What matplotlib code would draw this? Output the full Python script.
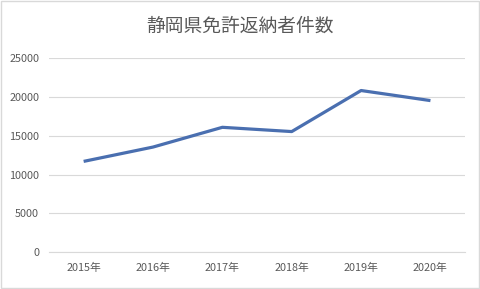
import matplotlib
matplotlib.use("Agg")
import matplotlib.pyplot as plt
from matplotlib.patches import Rectangle

plt.rcParams['font.family'] = ['Noto Sans CJK JP', 'DejaVu Sans']

years = ["2015年", "2016年", "2017年", "2018年", "2019年", "2020年"]
counts = [11700, 13550, 16100, 15550, 20850, 19550]
yticks = [0, 5000, 10000, 15000, 20000, 25000]

fig = plt.figure(figsize=(4.8, 2.89), dpi=100)
ax = fig.add_axes([0.102, 0.128, 0.867, 0.670])

ax.plot(range(len(years)), counts, color="#4A6FB0", linewidth=2.3, solid_capstyle="butt")

ax.set_xlim(-0.5, len(years) - 0.5)
ax.set_ylim(0, 25000)
ax.set_yticks(yticks)
ax.set_xticks(range(len(years)))
ax.set_xticklabels(years)
ax.grid(axis="y", color="#D9D9D9", linewidth=0.8)
ax.set_axisbelow(True)
for s in ["top", "right", "left"]:
    ax.spines[s].set_visible(False)
ax.spines["bottom"].set_color("#D9D9D9")
ax.spines["bottom"].set_linewidth(0.8)
ax.tick_params(length=0, labelsize=7.8, labelcolor="#595959")
ax.tick_params(axis="y", pad=7)
ax.tick_params(axis="x", pad=8)

fig.text(0.5, 0.91, "静岡県免許返納者件数", ha="center", va="center",
         fontsize=13.5, color="#595959")

fig.patches.append(Rectangle((0.002, 0.003), 0.996, 0.994, transform=fig.transFigure,
                             fill=False, edgecolor="#D9D9D9", linewidth=1))

fig.savefig("out.png", dpi=100)
